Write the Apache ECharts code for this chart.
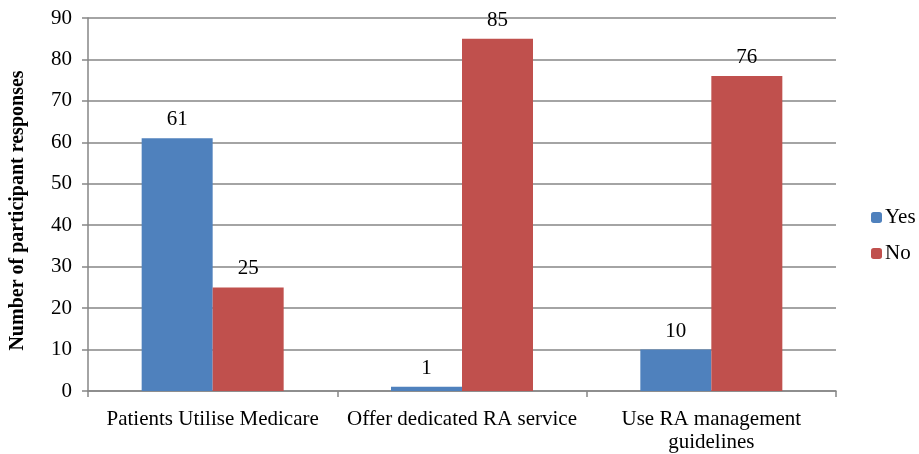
<!DOCTYPE html>
<html>
<head>
<meta charset="utf-8">
<script src="https://cdn.jsdelivr.net/npm/echarts@6/dist/echarts.min.js"></script>
<style>
  html, body { margin: 0; padding: 0; background: #fff; }
  #chart { width: 919px; height: 454px; }
</style>
</head>
<body>
<div id="chart"></div>
<script>
var categories = ["Patients Utilise Medicare", "Offer dedicated RA service", "Use RA management\nguidelines"];
var yesValues = [61, 1, 10];
var noValues = [25, 85, 76];
var yTicks = { min: 0, max: 90, interval: 10 };

var font = "Liberation Serif";
var chart = echarts.init(document.getElementById("chart"));

chart.setOption({
	animation: false,
	textStyle: { fontFamily: font },
	legend: {
		orient: "vertical",
		left: 866,
		top: 202,
		itemWidth: 11,
		itemHeight: 11,
		itemGap: 15,
		textStyle: { fontFamily: font, fontSize: 21, color: "#000", padding: [0, 0, 0, -2] },
		data: ["Yes", "No"]
	},
	grid: { left: 87, right: 83, top: 18, bottom: 61 },
	xAxis: {
		type: "category",
		data: categories,
		axisLine: { lineStyle: { color: "#868686", width: 1.5 } },
		axisTick: { show: true, length: 6, lineStyle: { color: "#868686", width: 1.5 } },
		axisLabel: { fontFamily: font, fontSize: 21, color: "#000", margin: 17, lineHeight: 23, interval: 0 }
	},
	yAxis: {
		type: "value",
		min: yTicks.min,
		max: yTicks.max,
		interval: yTicks.interval,
		name: "Number of participant responses",
		nameLocation: "middle",
		nameGap: 60,
		nameTextStyle: { fontFamily: font, fontSize: 20, fontWeight: "bold", color: "#000", padding: [0, 12, 0, 0] },
		axisLine: { show: true, lineStyle: { color: "#868686", width: 1.5 } },
		axisTick: { show: true, length: 6, lineStyle: { color: "#868686", width: 1.5 } },
		splitLine: { lineStyle: { color: "#868686", width: 1.5 } },
		axisLabel: { fontFamily: font, fontSize: 21, color: "#000", margin: 16 }
	},
	series: [
		{
			name: "Yes",
			type: "bar",
			data: yesValues,
			barWidth: 71,
			barGap: "0%",
			itemStyle: { color: "#4F81BD" },
			label: { show: true, position: "top", distance: 8, fontFamily: font, fontSize: 21, color: "#000" }
		},
		{
			name: "No",
			type: "bar",
			data: noValues,
			barWidth: 71,
			barGap: "0%",
			itemStyle: { color: "#C0504D" },
			label: { show: true, position: "top", distance: 8, fontFamily: font, fontSize: 21, color: "#000" }
		}
	]
});
</script>
</body>
</html>
